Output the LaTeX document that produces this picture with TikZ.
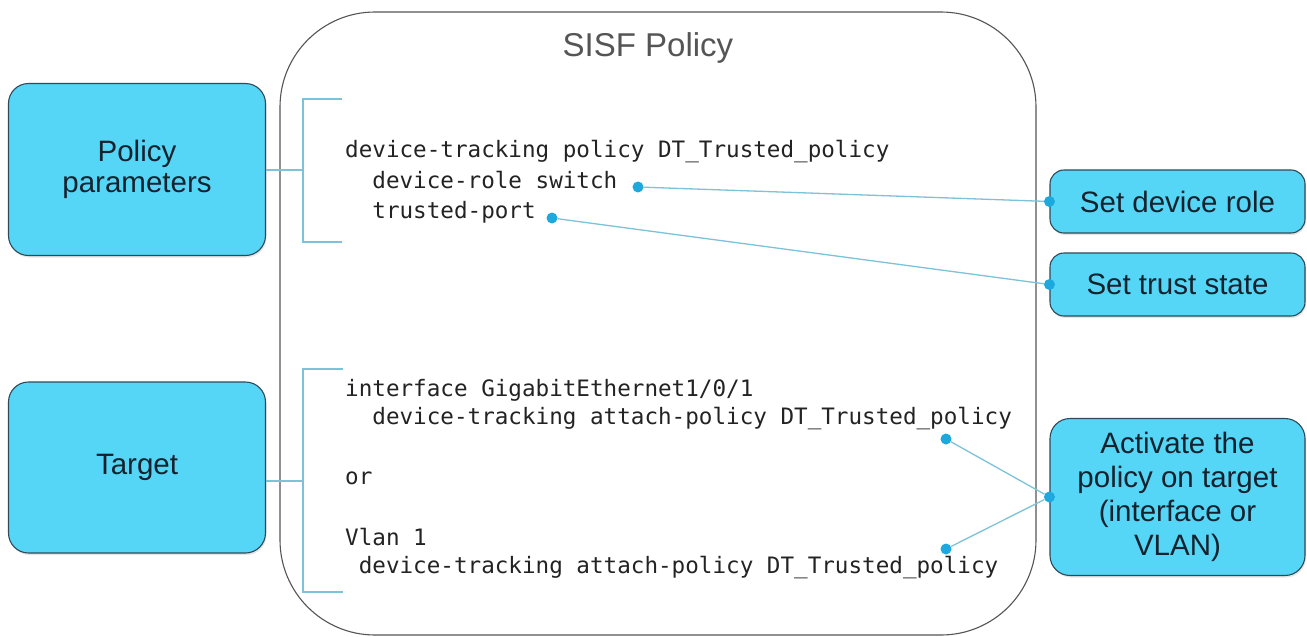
\documentclass[tikz,border=0pt]{standalone}
\usepackage{fontspec}
\setmainfont{Liberation Sans}
\newfontfamily\codefont{DejaVu Sans Mono}
\usepackage{tikz}
\usetikzlibrary{positioning,shadows}
\definecolor{boxfill}{HTML}{55D6F6}
\definecolor{boxline}{HTML}{2E4A58}
\definecolor{boxtext}{HTML}{14222E}
\definecolor{codetext}{HTML}{232323}
\definecolor{dotblue}{HTML}{1DA9DD}
\definecolor{linkblue}{HTML}{7CC3DA}
\definecolor{framegray}{HTML}{555555}

\begin{document}
\begin{tikzpicture}
           [x=1pt, y=-1pt,
            box/.style = {draw=boxline, fill=boxfill, line width=1.1pt, align=center,
                          text=boxtext, font=\fontsize{29.5}{31}\selectfont,
                          drop shadow={opacity=0.2, shadow xshift=1pt, shadow yshift=-2pt}},
            code/.style = {anchor=base west, inner sep=0pt, text=codetext,
                           font=\codefont\fontsize{22.6}{30}\selectfont},
            dot/.style = {circle, fill=dotblue, inner sep=0pt, minimum size=11pt},
            link/.style = {draw=linkblue, line width=1.3pt}]
            \useasboundingbox (0,0) rectangle (1307,637);
            \fill[white] (0,0) rectangle (1307,637);

            % policy frame
            \draw[framegray, line width=1.1pt, rounded corners=95pt] (280,12) rectangle (1036,635);
            \node[text=framegray, font=\fontsize{33}{33}\selectfont] (title) at (648,48) {SISF Policy};

            % boxes on the left
            \node[box, rounded corners=20pt, minimum width=257pt, minimum height=172pt] (par) at (137,169.5) {Policy\\parameters};
            \node[box, rounded corners=20pt, minimum width=257pt, minimum height=171pt] (tgt) at (137,467.5) {Target};

            % boxes on the right
            \node[box, rounded corners=14pt, minimum width=255pt, minimum height=63pt] (role) at (1177.5,201.5) {Set device role};
            \node[box, rounded corners=14pt, minimum width=255pt, minimum height=63pt] (trust) at (1177.5,284.5) {Set trust state};
            \node[box, rounded corners=20pt, minimum width=255pt, minimum height=157pt,
                  font=\fontsize{29.5}{34}\selectfont] (act) at (1177.5,497) {Activate the\\policy on target\\(interface or\\VLAN)};

            % configuration lines
            \node[code] (c1) at (345,157) {device-tracking policy DT\_Trusted\_policy};
            \node[code] (c2) at (345,188) {\ \ device-role switch};
            \node[code] (c3) at (345,218) {\ \ trusted-port};
            \node[code] (c4) at (345,396) {interface GigabitEthernet1/0/1};
            \node[code] (c5) at (345,424) {\ \ device-tracking attach-policy DT\_Trusted\_policy};
            \node[code] (c6) at (345,484) {or};
            \node[code] (c7) at (345,545) {Vlan 1};
            \node[code] (c8) at (345,573) {\ device-tracking attach-policy DT\_Trusted\_policy};

            % brackets
            \coordinate (pb) at (303,170);
            \coordinate (tb) at (303,481);
            \draw[linkblue, line width=1.5pt] (342,99) -- (303,99) -- (303,242) -- (342,242);
            \draw[linkblue, line width=1.5pt] (343,369) -- (303,369) -- (303,592) -- (343,592);
            \path[link] (par.east |- pb) edge (pb);
            \path[link] (tgt.east |- tb) edge (tb);

            % dots and links
            \node[dot] (d1) at (638,187) {};
            \node[dot] (d2) at (552,218) {};
            \node[dot] (d3) at (946,439) {};
            \node[dot] (d4) at (946,549) {};
            \node[dot] (e1) at (role.west) {};
            \node[dot] (e2) at (trust.west) {};
            \node[dot] (e3) at (act.west) {};

            \path[link] (d1) edge (e1);
            \path[link] (d2) edge (e2);
            \path[link] (d3) edge (e3);
            \path[link] (d4) edge (e3);
        \end{tikzpicture}
\end{document}
